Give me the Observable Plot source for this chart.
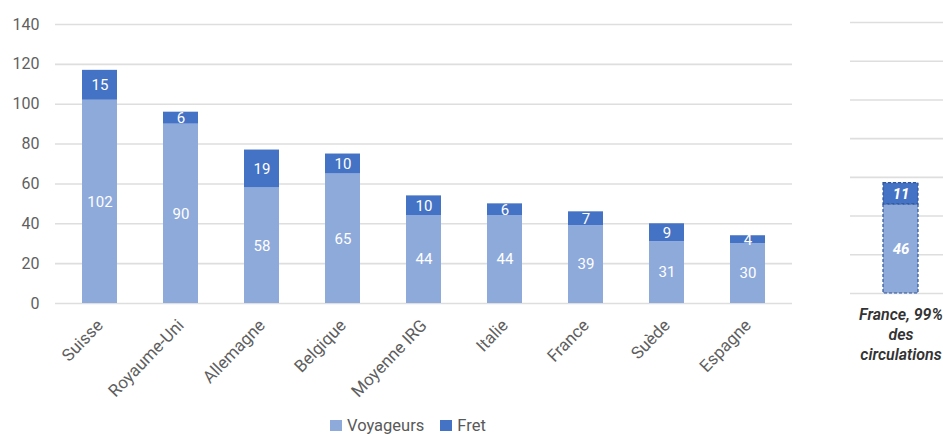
<!DOCTYPE html>
<html>
<head>
<meta charset="utf-8">
<script src="https://cdn.jsdelivr.net/npm/d3@7"></script>
<script src="https://cdn.jsdelivr.net/npm/@observablehq/plot@0.6"></script>
<style>
  html, body { margin: 0; padding: 0; background: #fff; width: 943px; height: 434px; overflow: hidden; font-family: Roboto, "Noto Sans", sans-serif; }
  #main { position: absolute; left: 0; top: 0; width: 800px; }
  #side { position: absolute; left: 800px; top: 0; width: 143px; overflow: hidden; }
  #legend { position: absolute; top: 416px; left: 330px; font-size: 16.5px; color: #595959; display: flex; align-items: center; white-space: nowrap; }
  .sw { display: inline-block; width: 12px; height: 11px; margin-right: 5px; }
</style>
</head>
<body>
<div id="main"></div>
<div id="side"></div>
<div id="legend"></div>
<script>
const categories = ["Suisse", "Royaume-Uni", "Allemagne", "Belgique", "Moyenne IRG", "Italie", "France", "Suède", "Espagne"];
const voyageurs = [102, 90, 58, 65, 44, 44, 39, 31, 30];
const fret = [15, 6, 19, 10, 10, 6, 7, 9, 4];
const series = ["Voyageurs", "Fret"];
const colors = ["#8eaadb", "#4472c4"];
const yTicks = [0, 20, 40, 60, 80, 100, 120, 140];

const sideCategory = "France, 99% des circulations";
const sideLabel = "France, 99%\ndes\ncirculations";
const sideVoyageurs = [46];
const sideFret = [11];

function rows(cats, v, f) {
  const out = [];
  cats.forEach((c, i) => {
    out.push({cat: c, serie: series[0], value: v[i]});
    out.push({cat: c, serie: series[1], value: f[i]});
  });
  return out;
}
const data = rows(categories, voyageurs, fret);
const sideData = rows([sideCategory], sideVoyageurs, sideFret);

const colorScale = {domain: series, range: colors};

const main = Plot.plot({
  width: 800,
  height: 410,
  marginTop: 24,
  marginBottom: 107,
  marginLeft: 55,
  marginRight: 8,
  style: {fontFamily: "Roboto, sans-serif", fontSize: "14px", color: "#595959", background: "transparent"},
  x: {domain: categories, paddingInner: 0.57, paddingOuter: 0.285, label: null, axis: null},
  y: {domain: [0, 140], ticks: yTicks, label: null},
  color: colorScale,
  marks: [
    Plot.ruleY(yTicks, {stroke: "#dedede", strokeWidth: 1.6}),
    Plot.barY(data, Plot.stackY({x: "cat", y: "value", fill: "serie", order: series})),
    Plot.text(data, Plot.stackY({x: "cat", y: "value", z: "serie", order: series, text: d => String(d.value), fill: "white", fontSize: 15, fontWeight: d => d.serie === "Fret" ? 700 : 600})),
    Plot.axisY({ticks: yTicks, tickSize: 0, tickPadding: 16, fontSize: 16, fill: "#5f5f5f"}),
    Plot.text(categories, {x: d => d, y: () => 0, text: d => d, rotate: -46, textAnchor: "end", lineAnchor: "middle", dy: 19, dx: 0, fontSize: 17, fill: "#5f5f5f"})
  ]
});
document.getElementById("main").appendChild(main);

const side = Plot.plot({
  width: 143,
  height: 410,
  marginTop: 22,
  marginBottom: 117,
  marginLeft: 50,
  marginRight: 0,
  style: {fontFamily: "Roboto, sans-serif", fontSize: "14px", background: "transparent", overflow: "visible"},
  x: {domain: [sideCategory], range: [83, 118], padding: 0, axis: null},
  y: {domain: [0, 140], axis: null},
  color: colorScale,
  marks: [
    Plot.ruleY(yTicks, {stroke: "#dedede", strokeWidth: 1.6}),
    Plot.barY(sideData, Plot.stackY({x: "cat", y: "value", fill: "serie", order: series, stroke: "#2f5597", strokeWidth: 1.2, strokeDasharray: "3,2"})),
    Plot.text(sideData, Plot.stackY({x: "cat", y: "value", z: "serie", order: series, text: d => String(d.value), fill: "white", fontSize: 15, fontWeight: 700, fontStyle: "italic"})),
    Plot.text([sideCategory], {x: d => d, y: () => 0, text: () => sideLabel, lineAnchor: "top", dy: 12, fontSize: 16, fontWeight: 600, fontStyle: "italic", fill: "#333", lineHeight: 1.25})
  ]
});
document.getElementById("side").appendChild(side);

const legend = document.getElementById("legend");
series.forEach((s, i) => {
  const sw = document.createElement("span");
  sw.className = "sw";
  sw.style.background = colors[i];
  legend.appendChild(sw);
  const t = document.createElement("span");
  t.textContent = s;
  t.style.marginRight = i === 0 ? "16px" : "0";
  legend.appendChild(t);
});
</script>
</body>
</html>
